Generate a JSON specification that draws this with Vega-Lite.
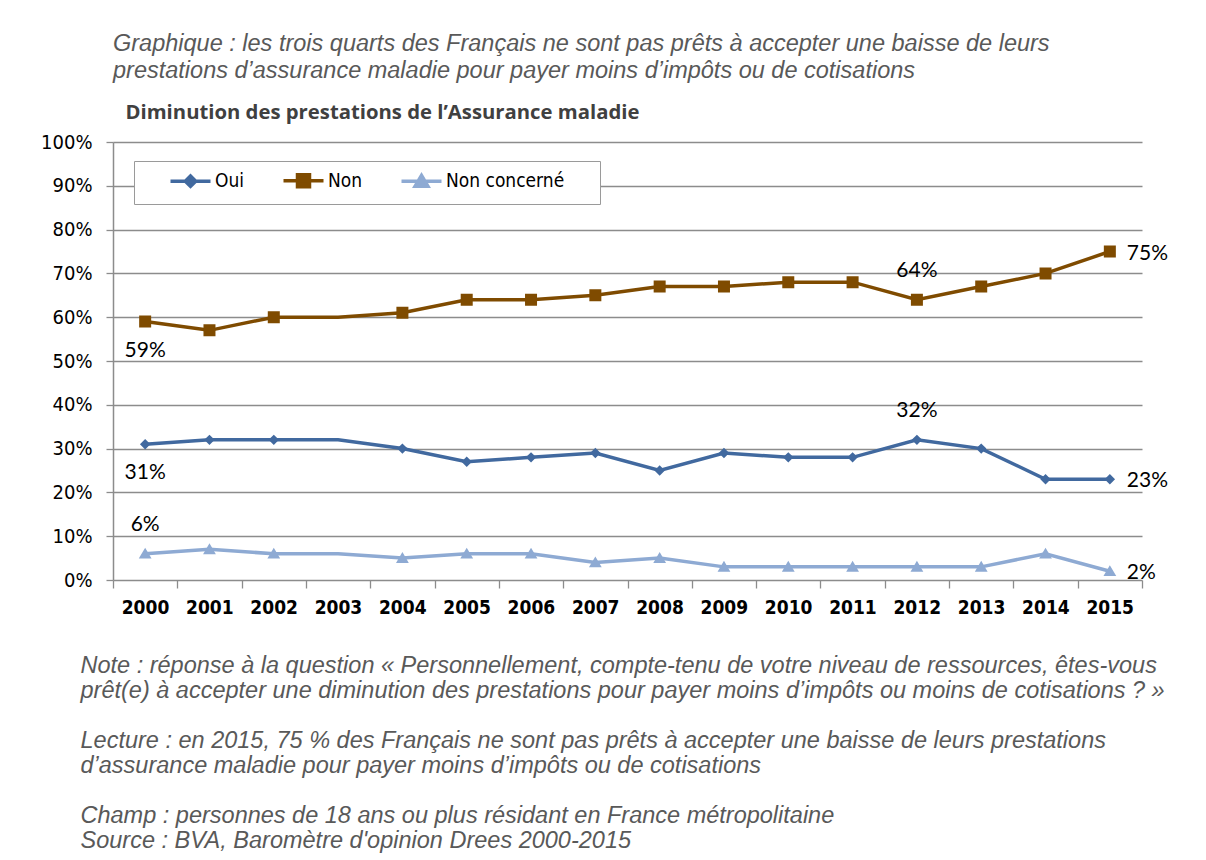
{
  "$schema": "https://vega.github.io/schema/vega-lite/v6.json",
  "width": 1029,
  "height": 438,
  "autosize": {"type": "none"},
  "padding": {"left": 113, "top": 142, "right": 64, "bottom": 280},
  "background": "white",
  "title": {
    "text": ["Graphique : les trois quarts des Français ne sont pas prêts à accepter une baisse de leurs", "prestations d’assurance maladie pour payer moins d’impôts ou de cotisations"],
    "anchor": "start", "frame": "group", "font": "Liberation Sans", "fontStyle": "italic", "fontWeight": "normal",
    "fontSize": 23.5, "lineHeight": 27, "color": "#595959", "offset": 20
  },
  "config": {
    "view": {"stroke": null},
    "axis": {"gridColor": "#8c8c8c", "gridWidth": 1.3, "domainColor": "#8c8c8c", "domainWidth": 1.5, "tickColor": "#8c8c8c", "tickWidth": 1.3}
  },
  "data": {"values": [
    {"year": 2000, "series": "Oui", "value": 0.31}, {"year": 2001, "series": "Oui", "value": 0.32}, {"year": 2002, "series": "Oui", "value": 0.32}, {"year": 2003, "series": "Oui", "value": 0.32},
    {"year": 2004, "series": "Oui", "value": 0.30}, {"year": 2005, "series": "Oui", "value": 0.27}, {"year": 2006, "series": "Oui", "value": 0.28}, {"year": 2007, "series": "Oui", "value": 0.29},
    {"year": 2008, "series": "Oui", "value": 0.25}, {"year": 2009, "series": "Oui", "value": 0.29}, {"year": 2010, "series": "Oui", "value": 0.28}, {"year": 2011, "series": "Oui", "value": 0.28},
    {"year": 2012, "series": "Oui", "value": 0.32}, {"year": 2013, "series": "Oui", "value": 0.30}, {"year": 2014, "series": "Oui", "value": 0.23}, {"year": 2015, "series": "Oui", "value": 0.23},
    {"year": 2000, "series": "Non", "value": 0.59}, {"year": 2001, "series": "Non", "value": 0.57}, {"year": 2002, "series": "Non", "value": 0.60}, {"year": 2003, "series": "Non", "value": 0.60},
    {"year": 2004, "series": "Non", "value": 0.61}, {"year": 2005, "series": "Non", "value": 0.64}, {"year": 2006, "series": "Non", "value": 0.64}, {"year": 2007, "series": "Non", "value": 0.65},
    {"year": 2008, "series": "Non", "value": 0.67}, {"year": 2009, "series": "Non", "value": 0.67}, {"year": 2010, "series": "Non", "value": 0.68}, {"year": 2011, "series": "Non", "value": 0.68},
    {"year": 2012, "series": "Non", "value": 0.64}, {"year": 2013, "series": "Non", "value": 0.67}, {"year": 2014, "series": "Non", "value": 0.70}, {"year": 2015, "series": "Non", "value": 0.75},
    {"year": 2000, "series": "Non concerné", "value": 0.06}, {"year": 2001, "series": "Non concerné", "value": 0.07}, {"year": 2002, "series": "Non concerné", "value": 0.06}, {"year": 2003, "series": "Non concerné", "value": 0.06},
    {"year": 2004, "series": "Non concerné", "value": 0.05}, {"year": 2005, "series": "Non concerné", "value": 0.06}, {"year": 2006, "series": "Non concerné", "value": 0.06}, {"year": 2007, "series": "Non concerné", "value": 0.04},
    {"year": 2008, "series": "Non concerné", "value": 0.05}, {"year": 2009, "series": "Non concerné", "value": 0.03}, {"year": 2010, "series": "Non concerné", "value": 0.03}, {"year": 2011, "series": "Non concerné", "value": 0.03},
    {"year": 2012, "series": "Non concerné", "value": 0.03}, {"year": 2013, "series": "Non concerné", "value": 0.03}, {"year": 2014, "series": "Non concerné", "value": 0.06}, {"year": 2015, "series": "Non concerné", "value": 0.02}
  ]},
  "encoding": {
    "x": {
      "field": "year", "type": "quantitative",
      "scale": {"domain": [1999.5, 2015.5], "nice": false, "zero": false},
      "axis": {
        "values": [1999.5, 2000.5, 2001.5, 2002.5, 2003.5, 2004.5, 2005.5, 2006.5, 2007.5, 2008.5, 2009.5, 2010.5, 2011.5, 2012.5, 2013.5, 2014.5, 2015.5],
        "labelExpr": "datum.value > 2015 ? '' : format(datum.value + 0.5, 'd')",
        "labelOffset": 32, "labelFlush": false, "labelOverlap": false,
        "domain": false, "grid": false, "tickSize": 8, "labelPadding": 10,
        "labelFont": "DejaVu Sans Condensed", "labelFontWeight": "bold", "labelFontSize": 19, "labelColor": "#000000",
        "title": ["Note : réponse à la question « Personnellement, compte-tenu de votre niveau de ressources, êtes-vous", "prêt(e) à accepter une diminution des prestations pour payer moins d’impôts ou moins de cotisations ? »", "\u200b", "Lecture : en 2015, 75 % des Français ne sont pas prêts à accepter une baisse de leurs prestations", "d’assurance maladie pour payer moins d’impôts ou de cotisations", "\u200b", "Champ : personnes de 18 ans ou plus résidant en France métropolitaine", "Source : BVA, Baromètre d'opinion Drees 2000-2015"],
        "titleX": -33, "titleY": 92, "titleAlign": "left", "titleAnchor": null, "titleBaseline": "alphabetic", "titleLineHeight": 25,
        "titleFont": "Liberation Sans", "titleFontStyle": "italic", "titleFontWeight": "normal", "titleFontSize": 23.5, "titleColor": "#595959"
      }
    },
    "y": {
      "field": "value", "type": "quantitative",
      "scale": {"domain": [0, 1], "nice": false},
      "axis": {
        "values": [0, 0.1, 0.2, 0.3, 0.4, 0.5, 0.6, 0.7, 0.8, 0.9, 1],
        "format": ".0%", "grid": true, "tickSize": 7, "labelPadding": 14,
        "labelFont": "DejaVu Sans Condensed", "labelFontSize": 20, "labelColor": "#000000",
        "title": "Diminution des prestations de l’Assurance maladie",
        "titleAngle": 0, "titleX": 12, "titleY": -24, "titleAlign": "left", "titleBaseline": "alphabetic",
        "titleFont": "Open Sans", "titleFontWeight": "bold", "titleFontSize": 20.3, "titleColor": "#404040"
      }
    },
    "color": {
      "field": "series", "type": "nominal",
      "scale": {"domain": ["Oui", "Non", "Non concerné"], "range": ["#41699f", "#7f4b00", "#8eaad3"]},
      "legend": {
        "orient": "none", "legendX": 21, "legendY": 19, "direction": "horizontal", "title": null,
        "fillColor": "white", "strokeColor": "#9a9a9a", "padding": 10, "cornerRadius": 0,
        "labelFont": "DejaVu Sans Condensed", "labelFontSize": 19, "labelColor": "#000000",
        "labelExpr": "datum.label == 'Non concerné' ? 'Non concerné\u2800\u2800' : datum.label",
        "symbolSize": 64, "symbolOffset": 37, "labelOffset": 15, "columnPadding": 12,
        "encode": {"symbols": {"update": {"fill": {"scale": "color", "field": "value"}, "stroke": {"scale": "color", "field": "value"}, "strokeWidth": {"value": 3.5}}}}
      }
    }
  },
  "layer": [
    {"mark": {"type": "line", "strokeWidth": 3.5}},
    {
      "transform": [{"filter": "datum.year != 2003"}],
      "mark": {"type": "point", "filled": true, "opacity": 1, "strokeWidth": 0, "size": 64},
      "encoding": {
        "shape": {
          "field": "series", "type": "nominal",
          "scale": {"domain": ["Oui", "Non", "Non concerné"], "range": ["M-5,0H5M0,-1.3L1.3,0L0,1.3L-1.3,0Z", "M-5,0H5M-1.5,-1.5H1.5V1.5H-1.5Z", "M-5,0H5M0,-1.5L1.6,1.2H-1.6Z"]},
          "legend": {
            "orient": "none", "legendX": 21, "legendY": 19, "direction": "horizontal", "title": null,
            "fillColor": "white", "strokeColor": "#9a9a9a", "padding": 10, "cornerRadius": 0,
            "labelFont": "DejaVu Sans Condensed", "labelFontSize": 19, "labelColor": "#000000",
            "labelExpr": "datum.label == 'Non concerné' ? 'Non concerné\u2800\u2800' : datum.label",
            "symbolSize": 64, "symbolOffset": 37, "labelOffset": 15, "columnPadding": 12,
            "encode": {"symbols": {"update": {"fill": {"scale": "color", "field": "value"}, "stroke": {"scale": "color", "field": "value"}, "strokeWidth": {"value": 3.5}}}}
          }
        }
      }
    },
    {
      "transform": [{"filter": "datum.year == 2000 && datum.series != 'Non concerné'"}],
      "mark": {"type": "text", "font": "Lato", "fontSize": 21, "color": "#000000", "align": "center", "baseline": "middle", "dy": 29},
      "encoding": {"text": {"field": "value", "type": "quantitative", "format": ".0%"}, "color": {"value": "#000000"}}
    },
    {
      "transform": [{"filter": "(datum.year == 2000 && datum.series == 'Non concerné') || (datum.year == 2012 && datum.series != 'Non concerné')"}],
      "mark": {"type": "text", "font": "Lato", "fontSize": 21, "color": "#000000", "align": "center", "baseline": "middle", "dy": -29},
      "encoding": {"text": {"field": "value", "type": "quantitative", "format": ".0%"}, "color": {"value": "#000000"}}
    },
    {
      "transform": [{"filter": "datum.year == 2015"}],
      "mark": {"type": "text", "font": "Lato", "fontSize": 21, "color": "#000000", "align": "left", "baseline": "middle", "dx": 17, "dy": 2},
      "encoding": {"text": {"field": "value", "type": "quantitative", "format": ".0%"}, "color": {"value": "#000000"}}
    }
  ]
}
